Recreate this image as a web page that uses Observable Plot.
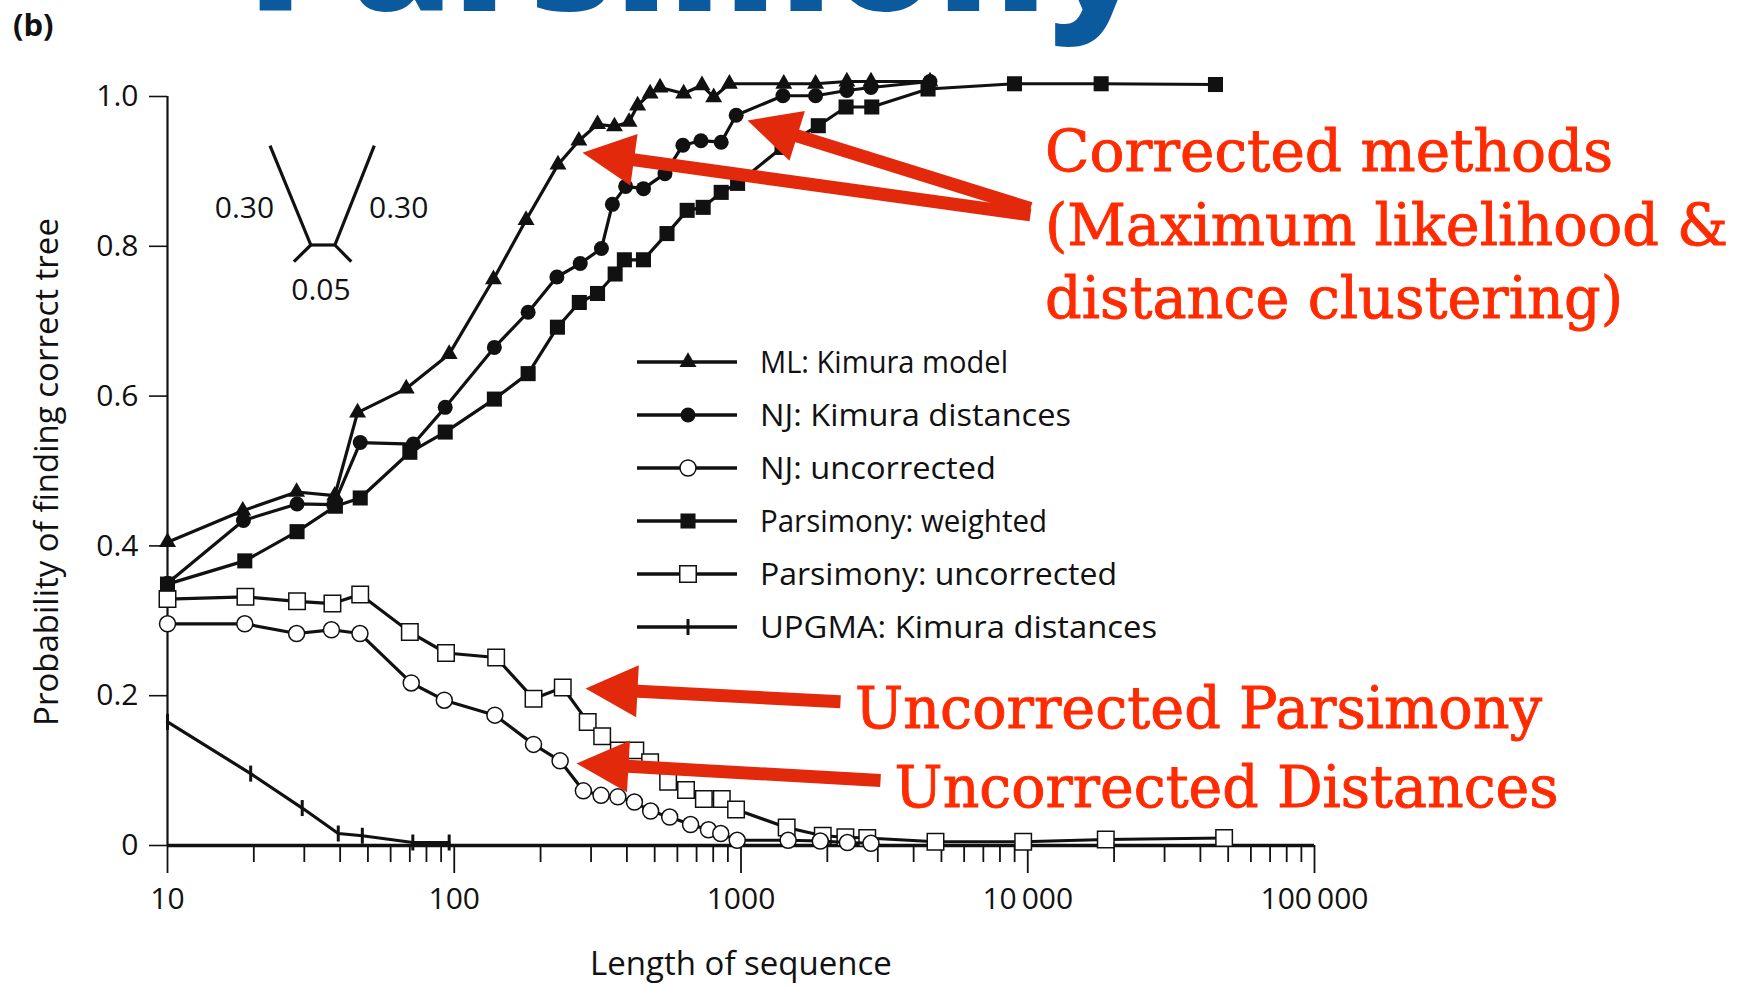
<!DOCTYPE html>
<html><head><meta charset="utf-8">
<script src="https://cdn.jsdelivr.net/npm/d3@7"></script>
<script src="https://cdn.jsdelivr.net/npm/@observablehq/plot@0.6"></script>
<style>
html,body{margin:0;padding:0;background:#fff;}
#wrap{position:relative;width:1744px;height:987px;overflow:hidden;background:#fff;}
#wrap svg{position:absolute;left:0;top:0;}
</style></head><body><div id="wrap"></div>
<script>
// ---------- data ----------
const seriesNames = ["ML: Kimura model","NJ: Kimura distances","NJ: uncorrected","Parsimony: weighted","Parsimony: uncorrected","UPGMA: Kimura distances"];

const mlLen  = [10,18.3,28.2,38.3,46,68,96,137,178,230,272,316,362,407,436,482,522,631,731,803,911,1410,1820,2340,2840,4560];
const mlProb = [0.405,0.447,0.472,0.467,0.578,0.610,0.656,0.756,0.835,0.909,0.941,0.963,0.960,0.966,0.988,1.004,1.012,1.004,1.015,0.999,1.017,1.017,1.017,1.020,1.020,1.020];

const njkLen  = [10,18.4,28.3,38,47,72,93,138,181,228,275,326,356,396,457,543,627,725,853,962,1400,1820,2340,2840,4560];
const njkProb = [0.350,0.434,0.456,0.455,0.538,0.536,0.585,0.665,0.712,0.759,0.777,0.797,0.856,0.880,0.877,0.897,0.935,0.941,0.939,0.975,1.001,1.001,1.008,1.012,1.020];

const njuLen  = [10,18.6,28.2,37.3,46.9,70.8,92.3,138.6,189,234,282,325,372,425,484,564,667,770,850,970,1460,1890,2350,2840];
const njuProb = [0.296,0.296,0.283,0.288,0.283,0.217,0.194,0.174,0.135,0.113,0.073,0.067,0.065,0.058,0.046,0.038,0.028,0.021,0.016,0.007,0.007,0.006,0.004,0.003];

const pwLen  = [10,18.6,28.3,38.5,47,70,93,138,181,229,273,316,364,392,457,552,649,738,853,973,1390,1860,2325,2858,4490,8990,18030,45150];
const pwProb = [0.349,0.380,0.419,0.453,0.464,0.525,0.552,0.596,0.630,0.692,0.725,0.737,0.763,0.782,0.782,0.817,0.848,0.852,0.872,0.884,0.932,0.961,0.986,0.986,1.010,1.017,1.017,1.016];

const puLen  = [10,18.7,28.3,37.6,47,70,93.6,140,189,239,292,328,375,428,482,557,643,742,857,961,1443,1928,2312,2756,4767,9640,18710,48400];
const puProb = [0.329,0.332,0.326,0.323,0.335,0.285,0.257,0.251,0.196,0.211,0.165,0.146,0.127,0.127,0.111,0.085,0.074,0.062,0.062,0.048,0.024,0.013,0.011,0.010,0.005,0.005,0.008,0.010];

const upLen  = [10,19.5,29.5,39.4,47.8,71.7,96];
const upProb = [0.165,0.096,0.050,0.016,0.013,0.004,0.004];

const yTicks = [0,0.2,0.4,0.6,0.8,1.0];
const xMajor = [10,100,1000,10000,100000];
const xMajorLabels = ["10","100","1000","10\u2009000","100\u2009000"];

// annotation arrows (data space): from label to target
const arrowFromLen  = [10220,10220,2223,3066];
const arrowFromProb = [0.842,0.8505,0.192,0.0868];
const arrowToLen    = [280,1054,287,267];
const arrowToProb   = [0.925,0.968,0.2096,0.1095];

// ---------- layout ----------
const W = 1744, H = 987, mL = 167, mR = 430, mT = 96, mB = 142;
const RED_TXT = "#ff2b00", RED_ARW = "#e3290b", INK = "#111";

const pts = (len, prob) => len.map((L, i) => ({L, p: prob[i]}));
const ml = pts(mlLen, mlProb), njk = pts(njkLen, njkProb), nju = pts(njuLen, njuProb);
const pw = pts(pwLen, pwProb), pu = pts(puLen, puProb), up = pts(upLen, upProb);

const xMinor = [];
for (let e = 1; e < 5; e++) for (let k = 2; k <= 9; k++) xMinor.push(k * 10 ** e);

// helper scales mirroring Plot's, used only to shape the arrowheads
const xs = d3.scaleLog().domain([10, 1e5]).range([mL, W - mR]);
const ys = d3.scaleLinear().domain([0, 1]).range([H - mB, mT]);
const headLen = 52, headHalf = 26, shaftBack = 38;
const shafts = [], heads = [];
arrowFromLen.forEach((_, i) => {
  const sx = xs(arrowFromLen[i]), sy = ys(arrowFromProb[i]);
  const tx = xs(arrowToLen[i]), ty = ys(arrowToProb[i]);
  const d = Math.hypot(sx - tx, sy - ty), ux = (sx - tx) / d, uy = (sy - ty) / d, px = -uy, py = ux;
  shafts.push({x1: arrowFromLen[i], y1: arrowFromProb[i],
    x2: xs.invert(tx + ux * shaftBack), y2: ys.invert(ty + uy * shaftBack)});
  const poly = [[tx, ty], [tx + ux * headLen + px * headHalf, ty + uy * headLen + py * headHalf],
                [tx + ux * headLen - px * headHalf, ty + uy * headLen - py * headHalf], [tx, ty]];
  poly.forEach(([x, y]) => heads.push({id: i, L: xs.invert(x), p: ys.invert(y)}));
});

const tickSym = {draw(ctx) { ctx.moveTo(0, -8); ctx.lineTo(0, 8); }};

const lineOpts = {x: "L", y: "p", stroke: INK, strokeWidth: 3.2, strokeLinejoin: "round"};

const plot = Plot.plot({
  width: W, height: H,
  marginLeft: mL, marginRight: mR, marginTop: mT, marginBottom: mB,
  x: {type: "log", domain: [10, 1e5]},
  y: {domain: [0, 1]},
  style: {fontFamily: "'Open Sans', sans-serif", fontSize: "30px", color: INK, background: "transparent", overflow: "visible"},
  marks: [
    Plot.axisY({ticks: yTicks, tickSize: 18, tickPadding: 11, strokeWidth: 1.6, fontSize: 30, label: null,
      tickFormat: d => d === 0 ? "0" : d.toFixed(1)}),
    Plot.axisX({ticks: xMinor, tickSize: 17, strokeWidth: 1.8, tickFormat: () => "", label: null}),
    Plot.axisX({ticks: xMajor, tickSize: 28, tickPadding: 14, strokeWidth: 1.8, fontSize: 30, label: null,
      tickFormat: d => xMajorLabels[xMajor.indexOf(d)]}),
    Plot.ruleX([10], {y1: 0, y2: 1, stroke: INK, strokeWidth: 2.2}),
    Plot.ruleY([0], {stroke: INK, strokeWidth: 3.4}),
    Plot.line(up, lineOpts),
    Plot.dot(up, {x: "L", y: "p", symbol: tickSym, stroke: INK, strokeWidth: 3, fill: "none"}),
    Plot.line(pu, lineOpts),
    Plot.dot(pu, {x: "L", y: "p", symbol: "square", r: 9.3, fill: "white", stroke: INK, strokeWidth: 1.5}),
    Plot.line(nju, lineOpts),
    Plot.dot(nju, {x: "L", y: "p", symbol: "circle", r: 8, fill: "white", stroke: INK, strokeWidth: 1.5}),
    Plot.line(pw, lineOpts),
    Plot.dot(pw, {x: "L", y: "p", symbol: "square", r: 8.5, fill: INK}),
    Plot.line(njk, lineOpts),
    Plot.dot(njk, {x: "L", y: "p", symbol: "circle", r: 7.5, fill: INK}),
    Plot.line(ml, lineOpts),
    Plot.dot(ml, {x: "L", y: "p", symbol: "triangle", r: 6.3, fill: INK}),
    Plot.link(shafts, {x1: "x1", y1: "y1", x2: "x2", y2: "y2", stroke: RED_ARW, strokeWidth: 13, strokeLinecap: "butt"}),
    Plot.line(heads, {x: "L", y: "p", z: "id", fill: RED_ARW, stroke: "none"}),
    Plot.text(["Probability of finding correct tree"], {frameAnchor: "left", rotate: -90, textAnchor: "middle", lineAnchor: "middle", dx: -120, dy: 1, fontSize: 33, fill: INK}),
    Plot.text(["Length of sequence"], {frameAnchor: "bottom", textAnchor: "middle", lineAnchor: "middle", dy: 119, fontSize: 33, fill: INK})
  ]
});
const wrap = document.getElementById("wrap");
wrap.appendChild(plot);

// ---------- overlay: inset tree, legend, panel tag, heading, annotations ----------
const svg = d3.select(wrap).append("svg").attr("width", W).attr("height", H)
  .style("font-family", "'Open Sans', sans-serif").style("pointer-events", "none");

// heading fragment cut by the top edge (as in the source slide)
svg.append("text").attr("x", 247).attr("y", 11).attr("fill", "#0c5a9e")
  .attr("textLength", 900).attr("lengthAdjust", "spacingAndGlyphs")
  .style("font-size", "150px").style("font-weight", 800).text("Parsimony");

svg.append("text").attr("x", 13).attr("y", 36).attr("fill", INK)
  .style("font-size", "31px").style("font-weight", 700).text("(b)");

// inset tree
const tree = svg.append("g").attr("stroke", INK).attr("stroke-width", 3.2).attr("fill", "none");
[[270,145.7,310.8,245],[310.8,245,334.9,245],[334.9,245,374.3,145.7],[310.8,245,293.9,261.7],[334.9,245,351.3,261.7]]
  .forEach(([a,b,c,d]) => tree.append("line").attr("x1",a).attr("y1",b).attr("x2",c).attr("y2",d));
[["0.30",244.5,218],["0.30",398.7,218],["0.05",321,300]].forEach(([t,x,y]) =>
  svg.append("text").attr("x",x).attr("y",y).attr("text-anchor","middle").attr("fill",INK).style("font-size","30px").text(t));

// legend
const legRows = [362,415,468,521,574,627];
const legWidths = [248,311,236,287,357,397];
const legSym = [
  {type: d3.symbolTriangle, r: 6.3, fill: INK, stroke: "none"},
  {type: d3.symbolCircle, r: 7.5, fill: INK, stroke: "none"},
  {type: d3.symbolCircle, r: 8, fill: "white", stroke: INK},
  {type: d3.symbolSquare, r: 8.5, fill: INK, stroke: "none"},
  {type: d3.symbolSquare, r: 9.3, fill: "white", stroke: INK},
  null
];
seriesNames.forEach((name, i) => {
  const y = legRows[i];
  svg.append("line").attr("x1", 637).attr("x2", 737).attr("y1", y).attr("y2", y).attr("stroke", INK).attr("stroke-width", 3.4);
  const s = legSym[i];
  if (s) svg.append("path").attr("transform", `translate(688,${y})`)
    .attr("d", d3.symbol(s.type, s.r * s.r * Math.PI)()).attr("fill", s.fill).attr("stroke", s.stroke).attr("stroke-width", 1.5);
  else svg.append("line").attr("x1", 688).attr("x2", 688).attr("y1", y - 8).attr("y2", y + 8).attr("stroke", INK).attr("stroke-width", 3);
  svg.append("text").attr("x", 760).attr("y", y + 11).attr("fill", INK)
    .attr("textLength", legWidths[i]).attr("lengthAdjust", "spacingAndGlyphs")
    .style("font-size", "31px").text(name);
});

// red annotation text
const notes = [
  ["Corrected methods", 1045, 170.7, 568],
  ["(Maximum likelihood &", 1045, 245, 683],
  ["distance clustering)", 1045, 318.3, 578],
  ["Uncorrected Parsimony", 855, 727.5, 687],
  ["Uncorrected Distances", 894.6, 807.3, 664]
];
notes.forEach(([t, x, y, w]) => svg.append("text").attr("x", x).attr("y", y).attr("fill", RED_TXT)
  .attr("stroke", RED_TXT).attr("stroke-width", 0.9)
  .attr("textLength", w).attr("lengthAdjust", "spacingAndGlyphs")
  .style("font-family", "'DejaVu Serif', serif").style("font-size", "58px").text(t));
</script></body></html>
